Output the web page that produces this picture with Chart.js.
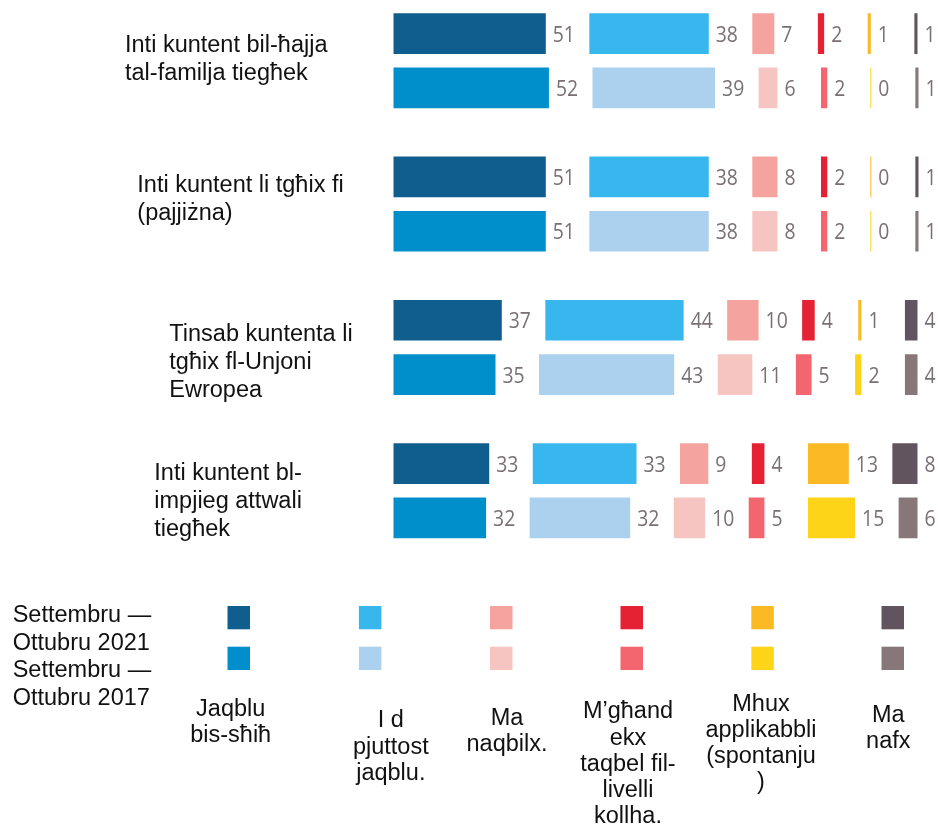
<!DOCTYPE html>
<html><head><meta charset="utf-8">
<script src="https://cdn.jsdelivr.net/npm/chart.js@4"></script>
<style>html,body{margin:0;padding:0;background:#fff;} #wrap{position:relative;width:938px;height:827px;}</style>
</head><body><div id="wrap"><canvas id="c" width="938" height="827"></canvas></div>
<script>
// ---------- data ----------
const categories = [
  ["Inti kuntent bil-ħajja", "tal-familja tiegħek"],
  ["Inti kuntent li tgħix fi", "(pajjiżna)"],
  ["Tinsab kuntenta li", "tgħix fl-Unjoni", "Ewropea"],
  ["Inti kuntent bl-", "impjieg attwali", "tiegħek"]
];
const periods = [["Settembru —", "Ottubru 2021"], ["Settembru —", "Ottubru 2017"]];
const answers = [
  ["Jaqblu", "bis-sħiħ"],
  ["I d", "pjuttost", "jaqblu."],
  ["Ma", "naqbilx."],
  ["M’għand", "ekx", "taqbel fil-", "livelli", "kollha."],
  ["Mhux", "applikabbli", "(spontanju", ")"],
  ["Ma", "nafx"]
];
const totallyAgree2021    = [51, 51, 37, 33];
const tendAgree2021       = [38, 38, 44, 33];
const tendDisagree2021    = [7, 8, 10, 9];
const totallyDisagree2021 = [2, 2, 4, 4];
const notApplicable2021   = [1, 0, 1, 13];
const dontKnow2021        = [1, 1, 4, 8];

const totallyAgree2017    = [52, 51, 35, 32];
const tendAgree2017       = [39, 38, 43, 32];
const tendDisagree2017    = [6, 8, 11, 10];
const totallyDisagree2017 = [2, 2, 5, 5];
const notApplicable2017   = [0, 0, 2, 15];
const dontKnow2017        = [1, 1, 4, 6];

const colors2021 = ['#0f5e8e', '#38b7ef', '#f5a39f', '#e52134', '#fbb924', '#62545e'];
const colors2017 = ['#008fca', '#abd1ef', '#f6c5c2', '#f4666f', '#fed418', '#877779'];

// ---------- layout (positions, not data) ----------
const GAP = 13.85;              // spacing between segments, in axis units
const FONT = '"Liberation Sans", Arial, sans-serif';
const catLabelX = [125, 137.3, 169.3, 154.3];
const catLabelDy = [-9.1, -12.4, -6.4, -10.7];
const legendColX = [238.7, 370.1, 501.2, 631.7, 762.5, 892.7];
const legendTextX = [230.7, 390.8, 507, 628, 761, 888.3];
const legendTextY = [715.7, 727.3, 725, 718.3, 710.7, 721.7];
const legendSquareY = [606, 646.7];

const series2021 = [totallyAgree2021, tendAgree2021, tendDisagree2021, totallyDisagree2021, notApplicable2021, dontKnow2021];
const series2017 = [totallyAgree2017, tendAgree2017, tendDisagree2017, totallyDisagree2017, notApplicable2017, dontKnow2017];

const clipLeft = {left: 0, right: false, top: false, bottom: false};
function build(seriesList, colors, stack) {
  const out = [];
  seriesList.forEach((vals, k) => {
    if (k > 0) out.push({label: 'gap', data: categories.map(() => GAP), backgroundColor: 'rgba(0,0,0,0)',
      stack, isGap: true, clip: clipLeft});
    out.push({label: answers[k].join(' ') + ' ' + stack, data: vals, backgroundColor: colors[k],
      stack, minBarLength: 1, clip: clipLeft});
  });
  return out;
}
const datasets = build(series2021, colors2021, '2021').concat(build(series2017, colors2017, '2017'));

const labelPlugin = {
  id: 'labels',
  afterDatasetsDraw(chart) {
    const ctx = chart.ctx;
    const sx = 0.88;
    chart.data.datasets.forEach((ds, i) => {
      if (ds.isGap) return;
      const meta = chart.getDatasetMeta(i);
      meta.data.forEach((bar, j) => {
        ctx.save();
        ctx.font = '22px "Open Sans", sans-serif';
        ctx.fillStyle = '#7a7074';
        ctx.textAlign = 'left';
        ctx.textBaseline = 'alphabetic';
        ctx.translate(bar.x + 7, bar.y + 8);
        ctx.scale(sx, 1);
        ctx.fillText(String(ds.data[j]), 0, 0);
        ctx.restore();
      });
    });
  },
  afterDraw(chart) {
    const ctx = chart.ctx;
    const y = chart.scales.y;
    ctx.save();
    ctx.font = '23.5px ' + FONT;
    ctx.fillStyle = '#111';
    ctx.textBaseline = 'alphabetic';
    ctx.textAlign = 'left';
    // category labels
    categories.forEach((lines, i) => {
      const base = y.getPixelForValue(i) + catLabelDy[i];
      lines.forEach((t, l) => ctx.fillText(t, catLabelX[i], base + l * 27.8));
    });
    // legend periods
    let ln = 0;
    periods.forEach(p => p.forEach(t => { ctx.fillText(t, 12.7, 622 + ln * 27.6); ln++; }));
    // legend squares
    [colors2021, colors2017].forEach((cols, r) => {
      cols.forEach((c, k) => {
        ctx.fillStyle = c;
        ctx.fillRect(legendColX[k] - 11.2, legendSquareY[r], 22.5, 23.3);
      });
    });
    // legend texts
    ctx.fillStyle = '#111';
    ctx.textAlign = 'center';
    answers.forEach((lines, k) => {
      lines.forEach((t, l) => ctx.fillText(t, legendTextX[k], legendTextY[k] + l * 26.2));
    });
    ctx.restore();
  }
};

new Chart(document.getElementById('c'), {
  type: 'bar',
  data: {labels: categories.map(c => c.join(' ')), datasets},
  options: {
    indexAxis: 'y',
    responsive: false,
    animation: false,
    events: [],
    categoryPercentage: 0.758,
    barPercentage: 0.75,
    borderWidth: 0,
    layout: {padding: {left: 393.5, right: 20.5, top: 60.8, bottom: 336.3}},
    plugins: {legend: {display: false}, tooltip: {enabled: false}},
    scales: {
      x: {stacked: true, min: 2.55, max: 100 + 5 * GAP, display: false},
      y: {stacked: true, offset: false, display: false}
    }
  },
  plugins: [labelPlugin]
});
</script></body></html>
